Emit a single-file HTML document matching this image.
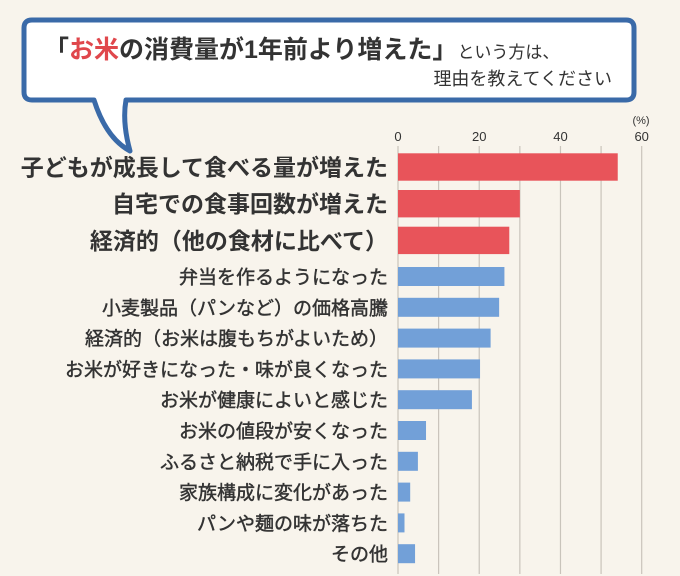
<!DOCTYPE html>
<html><head><meta charset="utf-8">
<style>
body{margin:0;background:#f8f4ec;}
#wrap{position:relative;width:680px;height:576px;overflow:hidden;background:#f8f4ec;font-family:"Liberation Sans","Noto Sans CJK JP",sans-serif;}
</style></head>
<body>
<div id="wrap">
<svg id="svg" width="680" height="576" xmlns="http://www.w3.org/2000/svg">
  <g>
    <path d="M32,20 H626 Q634,20 634,28 V92 Q634,100 626,100 H126 Q122,122 130,151 Q106,138 94,100 H32 Q24,100 24,92 V28 Q24,20 32,20 Z" fill="#ffffff" stroke="#3a6aa8" stroke-width="5" stroke-linejoin="round"/>
  </g>
  <text x="44" y="58" font-size="25" font-weight="bold" fill="#333">「<tspan fill="#e0474c">お米</tspan>の消費量が1年前より増えた」<tspan font-size="17" font-weight="normal">という方は、</tspan></text>
  <text x="612" y="85" font-size="18" fill="#333" text-anchor="end">理由を教えてください</text>
  <text x="641" y="124" font-size="11" fill="#333" text-anchor="middle">(%)</text>
  <g id="grid"></g>
  <g id="bars"></g>
  <g id="labels"></g>
</svg>
</div>
<script>
const categories=["子どもが成長して食べる量が増えた","自宅での食事回数が増えた","経済的（他の食材に比べて）","弁当を作るようになった","小麦製品（パンなど）の価格高騰","経済的（お米は腹もちがよいため）","お米が好きになった・味が良くなった","お米が健康によいと感じた","お米の値段が安くなった","ふるさと納税で手に入った","家族構成に変化があった","パンや麺の味が落ちた","その他"];
const values=[54.1,30.0,27.4,26.2,24.9,22.8,20.2,18.2,6.9,4.9,3.0,1.6,4.2];
const highlighted=[true,true,true,false,false,false,false,false,false,false,false,false,false];
const tickValues=[0,10,20,30,40,50,60];
const tickLabels=["0","","20","","40","","60"];
const NS="http://www.w3.org/2000/svg";
const x0=398,x1=641.7,xmax=60;
function xs(v){return x0+(x1-x0)*v/xmax;}
const grid=document.getElementById('grid'),bars=document.getElementById('bars'),labels=document.getElementById('labels');
tickValues.forEach((t,i)=>{
  const l=document.createElementNS(NS,'line');
  
  
  l.setAttribute('x1',xs(t));l.setAttribute('x2',xs(t));l.setAttribute('y1',146);l.setAttribute('y2',574);
  l.setAttribute('stroke','#c9c4bb');l.setAttribute('stroke-width',1.2);
  grid.appendChild(l);
  if(tickLabels[i]){
    const tx=document.createElementNS(NS,'text');
    
    
    tx.setAttribute('x',xs(t));tx.setAttribute('y',141);tx.setAttribute('font-size',13);
    tx.setAttribute('text-anchor','middle');tx.setAttribute('fill','#333');
    tx.textContent=tickLabels[i];grid.appendChild(tx);
  }
});
let y=153.3;
categories.forEach((c,i)=>{
  const hl=highlighted[i];
  const h=hl?27.4:19;
  const r=document.createElementNS(NS,'rect');
  
  
  r.setAttribute('x',x0);r.setAttribute('y',y);r.setAttribute('width',xs(values[i])-x0);r.setAttribute('height',h);
  r.setAttribute('fill',hl?'#e8545a':'#72a0d8');
  bars.appendChild(r);
  const t=document.createElementNS(NS,'text');
  
  
  t.setAttribute('x',388);t.setAttribute('y',y+h/2+(hl?8.5:7));
  t.setAttribute('font-size',hl?23:19);
  if(hl){t.setAttribute('font-weight','bold');}
  else{t.setAttribute('stroke','#333');t.setAttribute('stroke-width','0.45');}
  t.setAttribute('text-anchor','end');t.setAttribute('fill','#333');
  t.textContent=c;labels.appendChild(t);
  if(hl){y+= (i==2)?40.3:36.7;}else{y+=30.8;}
});
</script>
</body></html>
